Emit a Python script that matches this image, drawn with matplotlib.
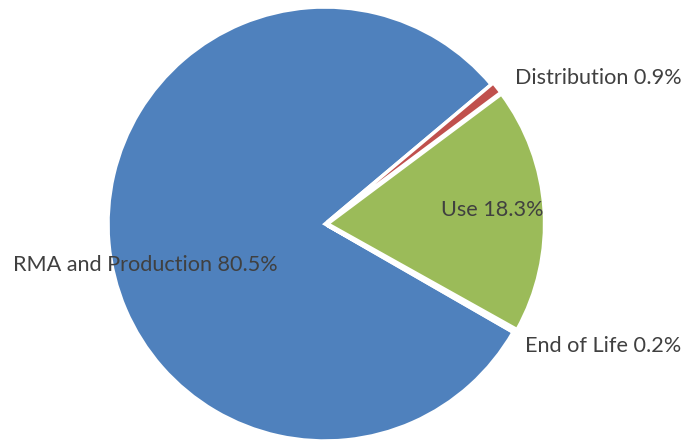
import matplotlib
matplotlib.use("Agg")
import matplotlib.pyplot as plt

categories = ["RMA and Production", "Distribution", "Use", "End of Life"]
values = [80.5, 0.9, 18.3, 0.2]
label_texts = ["RMA and Production 80.5%", "Distribution 0.9%", "Use 18.3%", "End of Life 0.2%"]
colors = ["#4F81BD", "#C0504D", "#9BBB59", "#8064A2"]

W, H = 684, 441
fig = plt.figure(figsize=(W / 100, H / 100), dpi=100)
cx, cy, r = 325, 224, 217
ax = fig.add_axes([(cx - r) / W, (H - cy - r) / H, 2 * r / W, 2 * r / H])

wedges, _ = ax.pie(values, colors=colors, startangle=-29.9, counterclock=False,
                   radius=1.0, explode=[0, 0.012, 0.012, 0.012],
                   wedgeprops=dict(edgecolor="white", linewidth=2.5))
ax.set_xlim(-1, 1)
ax.set_ylim(-1, 1)
ax.set_aspect("equal")
ax.axis("off")

def px(x, y):
    return ((x - cx) / r, (cy - y) / r)

label_pos = [(145, 265), (598, 78), (492, 210), (603, 346)]
for t, (x, y) in zip(label_texts, label_pos):
    dx, dy = px(x, y)
    ax.text(dx, dy, t, ha="center", va="center", fontsize=15.6, family="Lato",
            color="#404040", clip_on=False)

fig.savefig("out.png", dpi=100)
